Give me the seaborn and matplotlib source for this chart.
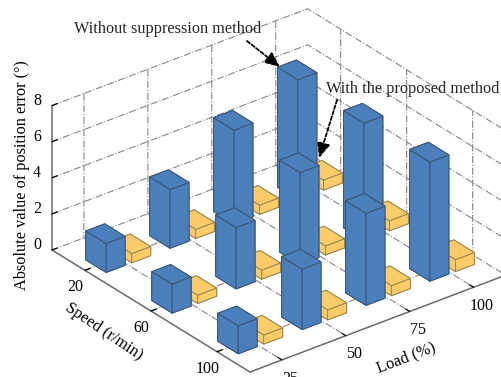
import matplotlib
matplotlib.use("Agg")
import numpy as np
import matplotlib.pyplot as plt
import seaborn as sns
from mpl_toolkits.mplot3d import proj3d

speeds = [20, 60, 100]
loads = [25, 50, 75, 100]
z_ticks = [0, 2, 4, 6, 8]
# rows: speed 20, 60, 100 ; columns: load 25, 50, 75, 100
without_method = [[1.6, 3.25, 5.2, 6.65],
                  [1.6, 3.4, 5.1, 6.5],
                  [1.55, 3.35, 5.1, 6.6]]
with_method = [[0.5, 0.5, 0.5, 0.55],
               [0.45, 0.5, 0.5, 0.55],
               [0.5, 0.55, 0.55, 0.65]]

BLUE, YELLOW = "#4a7fbb", "#fdcb68"
BLUE_EDGE, YELLOW_EDGE = "#3a5675", "#9a8650"
GRID = "#858585"
AXIS = "#6a6a6a"
W, H = 501, 377

sns.set_theme(style="white")
plt.rcParams["font.family"] = ["Liberation Serif", "DejaVu Serif"]
plt.rcParams["mathtext.fontset"] = "stix"
FS = 11.7
TICK_FS = 11.5

fig = plt.figure(figsize=(W / 100, H / 100), dpi=100)
side = 800
ax = fig.add_axes([(W - side) / 2 / W, (H - side) / 2 / H, side / W, side / H],
                  projection="3d", proj_type="ortho", computed_zorder=False)
ax.patch.set_visible(False)
ax.view_init(elev=28.9, azim=-38.1)
ax.set_xlim(0, 120, view_margin=0)
ax.set_ylim(12.5, 112.5, view_margin=0)
ax.set_zlim(0, 8, view_margin=0)
BOX = (321, 325, 165)
ax.set_box_aspect(BOX, zoom=1.0)

ax.set_xticks(speeds)
ax.set_yticks(loads)
ax.set_zticks(z_ticks)
ax.set_xticklabels([str(v) for v in speeds], fontsize=TICK_FS)
ax.set_yticklabels([str(v) for v in loads], fontsize=TICK_FS)
ax.set_zticklabels([str(v) for v in z_ticks], fontsize=TICK_FS, va="baseline")
ax.zaxis.set_ticks_position("lower")
ax.tick_params(axis="x", pad=3, colors="black")
ax.tick_params(axis="y", pad=4, colors="black")
ax.tick_params(axis="z", pad=2, colors="black")

for axis in (ax.xaxis, ax.yaxis, ax.zaxis):
    axis.set_pane_color((1, 1, 1, 0))
    axis.pane.set_edgecolor((1, 1, 1, 0))
    axis.line.set_color(AXIS)
    axis.line.set_linewidth(1.1)
    axis._axinfo["grid"].update(color=GRID, linestyle="-.", linewidth=0.8)
    axis._axinfo["tick"].update(inward_factor=0.0, outward_factor=0.25,
                                linewidth={True: 0.9, False: 0.5}, color=AXIS)

# Bar sizes and their offsets from the load tick, in data units
dx = 12.4
dy = 7.4
blue_off = -8.2
yellow_off = 1.8

order = 10
for i, s in enumerate(speeds):
    for j in range(len(loads) - 1, -1, -1):
        l = loads[j]
        for off, h, col, edge in ((yellow_off, with_method[i][j], YELLOW, YELLOW_EDGE),
                                  (blue_off, without_method[i][j], BLUE, BLUE_EDGE)):
            bar = ax.bar3d(s - dx / 2, l + off, 0, dx, dy, h, color=col,
                           shade=False, edgecolor=edge, linewidth=0.7)
            bar.set_zorder(order)
            order += 1


def to_px(x, y, z):
    xs, ys, _ = proj3d.proj_transform(x, y, z, ax.get_proj())
    return ax.transData.transform((xs, ys))


# Fit the box to the wanted pixel frame
target_left = np.array([52.0, H - 250.0])
target_front = np.array([250.0, H - 372.0])
fig.canvas.draw()
cur = np.linalg.norm(to_px(120, 12.5, 0) - to_px(0, 12.5, 0))
zoom = np.linalg.norm(target_front - target_left) / cur
ax.set_box_aspect(BOX, zoom=zoom)
fig.canvas.draw()
shift = target_left - to_px(0, 12.5, 0)
p = ax.get_position(original=True)
ax.set_position([p.x0 + shift[0] / W, p.y0 + shift[1] / H, p.width, p.height])
fig.canvas.draw()


def label(text, cx, cy, rot):
    fig.text(cx / W, 1 - cy / H, text, rotation=rot, ha="center", va="center",
             rotation_mode="anchor", fontsize=FS, color="black")


label("Speed (r/min)", 104, 332, -34)
label("Load (%)", 406, 358, 21)
label("Absolute value of position error (\u00b0)", 22, 175, 90)


def note(text, tx, ty, ax_from, ax_to):
    ax.annotate(text, xy=(tx, H - ty), xycoords="figure pixels", ha="center", va="center",
                fontsize=FS, zorder=200, annotation_clip=False)
    ax.annotate("", xy=(ax_to[0], H - ax_to[1]), xytext=(ax_from[0], H - ax_from[1]),
                xycoords="figure pixels", textcoords="figure pixels", zorder=201,
                annotation_clip=False,
                arrowprops=dict(arrowstyle="-|>,head_length=0.7,head_width=0.3", color="black",
                                linestyle=(0, (2, 1.2)), linewidth=1.3,
                                shrinkA=0, shrinkB=0, mutation_scale=13))


note("Without suppression method", 168, 29, (247, 41), (280, 67))
note("With the proposed method", 413, 89, (337, 100), (319, 158))

fig.savefig("out.png", dpi=100)
